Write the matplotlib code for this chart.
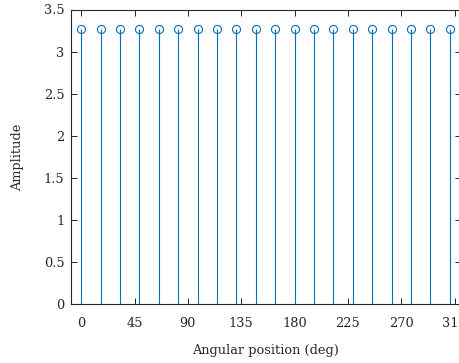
import numpy as np
import matplotlib
matplotlib.use('agg')
import matplotlib.pyplot as plt

# 22 equally spaced angular positions (deg) and their amplitudes
n_points = 22
angles = [k * 360 / n_points for k in range(n_points)]
amplitude = [3.27] * n_points

xticks = [0, 45, 90, 135, 180, 225, 270, 315]
yticks = [0, 0.5, 1, 1.5, 2, 2.5, 3, 3.5]
yticklabels = ['0', '0.5', '1', '1.5', '2', '2.5', '3', '3.5']

plt.rcParams['font.family'] = 'DejaVu Serif'
plt.rcParams['font.size'] = 9.3

fig = plt.figure(figsize=(4.59, 3.63), dpi=100, facecolor='w')
W, H = 459, 363
# axes runs slightly past the right edge of the picture, as in the reference crop
ax = fig.add_axes([71.3 / W, (H - 304.3) / H, (461.5 - 71.3) / W, (304.3 - 9.5) / H])

blue = '#0072BD'
markers, stems, base = ax.stem(angles, amplitude, basefmt=' ')
plt.setp(stems, color=blue, linewidth=0.8)
plt.setp(markers, color=blue, markerfacecolor='none', markersize=5.8, markeredgewidth=0.8)

ax.set_xlim(-8.44, 320.9)
ax.set_ylim(0, 3.5)
ax.set_xticks(xticks)
ax.set_yticks(yticks)
ax.set_yticklabels(yticklabels)

ax.tick_params(direction='in', top=True, right=True, length=4, width=0.7,
               colors='#262626', labelcolor='#262626')
ax.tick_params(axis='x', pad=9)
ax.tick_params(axis='y', pad=5)
for s in ax.spines.values():
    s.set_linewidth(0.8)
    s.set_color('#262626')

ax.set_xlabel('Angular position (deg)', color='#262626')
ax.set_ylabel('Amplitude', color='#262626')
ax.xaxis.set_label_coords((266 - 71.3) / (461.5 - 71.3), -(344 - 304.3) / 294.8)
ax.yaxis.label.set_va('center')
ax.yaxis.set_label_coords((18 - 71.3) / (461.5 - 71.3), 0.5)

fig.savefig('out.png', dpi=100)
